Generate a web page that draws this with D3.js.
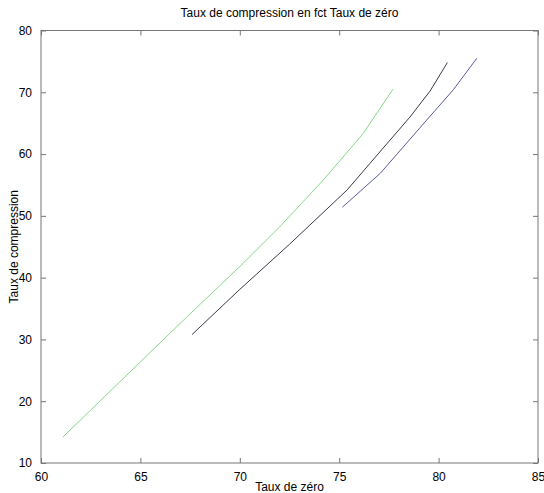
<!DOCTYPE html>
<html lang="fr">
<head>
<meta charset="UTF-8">
<title>Taux de compression</title>
<script src="https://d3js.org/d3.v7.min.js"></script>
<style>
  body { margin: 0; background: #fff; }
  text { font-family: "Liberation Sans", Arial, sans-serif; fill: #000; }
</style>
</head>
<body>
<div id="chart"></div>
<script>
    // values
    const greenX = [61.1, 67.0, 70.0, 72.0, 74.2, 76.2, 77.7];
    const greenY = [14.2, 32.6, 41.8, 48.2, 55.8, 63.3, 70.5];
    const blackX = [67.6, 70.0, 72.5, 75.4, 76.55, 78.56, 79.57, 80.44];
    const blackY = [30.8, 38.1, 45.4, 54.2, 58.5, 66.0, 70.2, 74.8];
    const blueX = [75.16, 77.07, 79.4, 80.74, 81.92];
    const blueY = [51.4, 56.9, 65.5, 70.4, 75.5];
    const xTicks = [60, 65, 70, 75, 80, 85];
    const yTicks = [10, 20, 30, 40, 50, 60, 70, 80];

    const width = 544, height = 493;
    const plotL = 41, plotR = 538, plotT = 30.5, plotB = 463;

    const svg = d3.select("#chart").append("svg")
        .attr("width", width).attr("height", height);

    const x = d3.scaleLinear().domain([60, 85]).range([plotL, plotR]);
    const y = d3.scaleLinear().domain([10, 80]).range([plotB, plotT]);

    // frame
    svg.append("rect")
        .attr("x", plotL).attr("y", plotT)
        .attr("width", plotR - plotL).attr("height", plotB - plotT)
        .attr("fill", "none").attr("stroke", "#777").attr("stroke-width", 1);

    // axes with inward ticks
    const ax = (g, axis) => {
        g.call(axis);
        g.select(".domain").remove();
        g.selectAll(".tick line").attr("stroke", "#777");
        g.selectAll("text").style("font-size", "12px");
    };
    svg.append("g").attr("transform", `translate(0,${plotB})`)
        .call(g => ax(g, d3.axisBottom(x).tickValues(xTicks).tickSizeInner(-5).tickPadding(9)));
    svg.append("g").attr("transform", `translate(0,${plotT})`)
        .call(g => ax(g, d3.axisTop(x).tickValues(xTicks).tickSizeInner(-5).tickFormat("")));
    svg.append("g").attr("transform", `translate(${plotL},0)`)
        .call(g => ax(g, d3.axisLeft(y).tickValues(yTicks).tickSizeInner(-5).tickPadding(9)));
    svg.append("g").attr("transform", `translate(${plotR},0)`)
        .call(g => ax(g, d3.axisRight(y).tickValues(yTicks).tickSizeInner(-5).tickFormat("")));

    const line = d3.line()
        .x(d => x(d[0])).y(d => y(d[1]));

    const series = [
        { xs: greenX, ys: greenY, color: "#86d886" },
        { xs: blackX, ys: blackY, color: "#3a3a4a" },
        { xs: blueX, ys: blueY, color: "#5a5aa8" }
    ];
    svg.selectAll("path.series")
        .data(series)
        .enter().append("path")
        .attr("class", "series")
        .attr("d", s => line(d3.zip(s.xs, s.ys)))
        .attr("fill", "none")
        .attr("stroke", s => s.color)
        .attr("stroke-width", 1);

    // titles
    svg.append("text")
        .attr("x", (plotL + plotR) / 2).attr("y", 17)
        .attr("text-anchor", "middle").style("font-size", "12px")
        .text("Taux de compression en fct Taux de zéro");
    svg.append("text")
        .attr("x", (plotL + plotR) / 2).attr("y", 491)
        .attr("text-anchor", "middle").style("font-size", "12px")
        .text("Taux de zéro");
    svg.append("text")
        .attr("transform", `translate(18,${(plotT + plotB) / 2}) rotate(-90)`)
        .attr("text-anchor", "middle").style("font-size", "12px")
        .text("Taux de compression");
</script>
</body>
</html>
